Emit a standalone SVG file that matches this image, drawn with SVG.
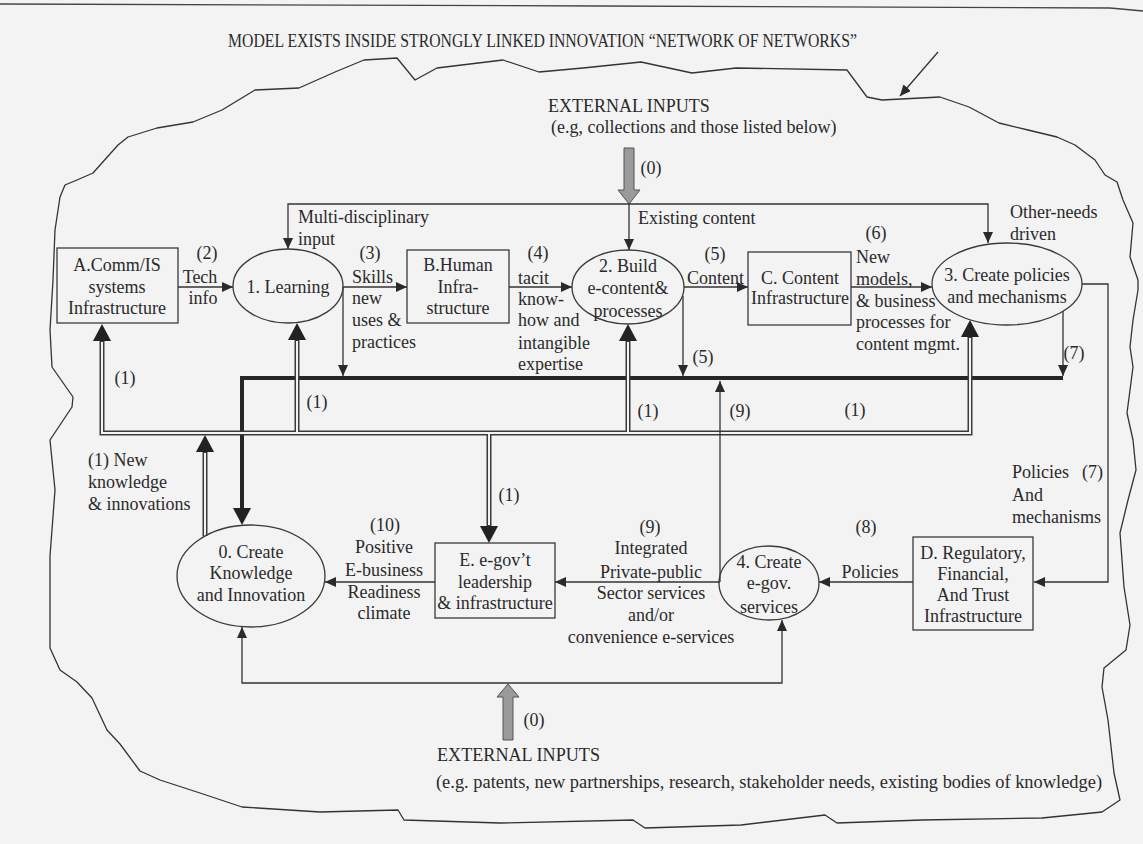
<svg xmlns="http://www.w3.org/2000/svg" width="1143" height="844" viewBox="0 0 1143 844">
<defs>
<style>
text{font-family:"Liberation Serif","Times New Roman",serif;font-size:18px;fill:#2a2a2a}
.c{text-anchor:middle}
.box{fill:none;stroke:#3a3a3a;stroke-width:1.3}
.thin{fill:none;stroke:#333;stroke-width:1.3}
.dbl{fill:none;stroke:#3a3a3a;stroke-width:5}
.dbli{fill:none;stroke:#f3f3f3;stroke-width:2}
.thick{fill:none;stroke:#262626;stroke-width:4}
.grey{fill:#9a9a9a;stroke:#555;stroke-width:1}
</style>
<marker id="ah" viewBox="0 0 11 10" refX="11" refY="5" markerWidth="11" markerHeight="10" markerUnits="userSpaceOnUse" orient="auto-start-reverse"><path d="M0,0 L11,5 L0,10 z" fill="#2a2a2a"/></marker>
<marker id="ahb" viewBox="0 0 17 18" refX="10" refY="9" markerWidth="17" markerHeight="18" markerUnits="userSpaceOnUse" orient="auto-start-reverse"><path d="M0,0 L17,9 L0,18 z" fill="#222"/></marker>
</defs>
<rect width="1143" height="844" fill="#f3f3f3"/>
<path d="M0,4 L600,6 L1110,8 L1143,11" fill="none" stroke="#444" stroke-width="1.3"/>
<text x="228" y="47" textLength="629" lengthAdjust="spacingAndGlyphs" font-size="19">MODEL EXISTS INSIDE STRONGLY LINKED INNOVATION “NETWORK OF NETWORKS”</text>
<path d="M938,52 L900,96" class="thin" marker-end="url(#ah)"/>
<path id="cloud" d="M128,137 L157,128 L193,122 L222,110 L255,90 L299,88 L335,72 L364,60 L397,58 L415,80 L437,68 L503,60 L539,72 L583,68 L641,62 L692,73 L736,68 L847,70 L867,97 L882,100 L940,97 L969,107 L999,123 L1028,130 L1057,137 L1075,145 L1095,160 L1105,175 L1117,182 L1123,200 L1133,223 L1130,257 L1138,280 L1138,290 L1133,320 L1130,347 L1133,367 L1127,413 L1133,440 L1136,470 L1128,500 L1120,533 L1124,587 L1130,625 L1126,650 L1104,668 L1102,687 L1108,720 L1114,773 L1120,800 L1102,812 L1042,818 L922,820 L837,823 L825,815 L741,825 L645,828 L633,820 L500,823 L404,820 L398,810 L320,812 L242,807 L200,793 L160,780 L140,771 L120,744 L107,730 L92,698 L77,682 L60,670 L50,648 L50,556 L55,490 L50,440 L72,407 L73,397 L52,367 L50,330 L53,280 L55,230 L60,197 L65,185 L77,180 L93,173 L118,145 Z" fill="none" stroke="#333" stroke-width="1.3" stroke-linejoin="round"/>
<g id="external-top">
<text x="548" y="112">EXTERNAL INPUTS</text>
<text x="551" y="133">(e.g, collections and those listed below)</text>
<polygon class="grey" points="624,148 634,148 634,190 640,190 629,204 618,190 624,190"/>
<text x="651" y="174" class="c">(0)</text>
</g>
<g id="external-bottom">
<polygon class="grey" points="503,740 513,740 513,697 519,697 508,684 497,697 503,697"/>
<text x="534" y="726" class="c">(0)</text>
<text x="437" y="761" textLength="163" lengthAdjust="spacingAndGlyphs" font-size="19">EXTERNAL INPUTS</text>
<text x="436" y="788" textLength="666" lengthAdjust="spacingAndGlyphs" font-size="19">(e.g. patents, new partnerships, research, stakeholder needs, existing bodies of knowledge)</text>
</g>
<g id="connectors">
<path class="thick" d="M1063,378 H242 V518" marker-end="url(#ahb)"/>
<path class="dbl" d="M102,331 V433 H970 V327" marker-start="url(#ahb)" marker-end="url(#ahb)"/>
<path class="dbl" d="M205,536 V442" marker-end="url(#ahb)"/>
<path class="dbl" d="M297,433 V330" marker-end="url(#ahb)"/>
<path class="dbl" d="M489,433 V536" marker-end="url(#ahb)"/>
<path class="dbl" d="M628,433 V331" marker-end="url(#ahb)"/>
<path class="dbli" d="M102,342 V433 H970 V338"/>
<path class="dbli" d="M205,536 V453"/>
<path class="dbli" d="M297,433 V341"/>
<path class="dbli" d="M489,433 V525"/>
<path class="dbli" d="M628,433 V342"/>
<path class="thin" d="M288,249 V204 H988 V243" marker-start="url(#ah)" marker-end="url(#ah)"/>
<path class="thin" d="M629,204 V250" marker-end="url(#ah)"/>
<path class="thin" d="M178,287 H233" marker-end="url(#ah)"/>
<path class="thin" d="M343,287 H407" marker-end="url(#ah)"/>
<path class="thin" d="M343,287 V376" marker-end="url(#ah)"/>
<path class="thin" d="M509,287 H572" marker-end="url(#ah)"/>
<path class="thin" d="M684,287 H748" marker-end="url(#ah)"/>
<path class="thin" d="M683,296 V376" marker-end="url(#ah)"/>
<path class="thin" d="M851,287 H932" marker-end="url(#ah)"/>
<path class="thin" d="M1082,284 H1108 V582 H1034" marker-end="url(#ah)"/>
<path class="thin" d="M1063,311 V376" marker-end="url(#ah)"/>
<path class="thin" d="M720,582 V381" marker-end="url(#ah)"/>
<path class="thin" d="M720,582 H555" marker-end="url(#ah)"/>
<path class="thin" d="M913,582 H819" marker-end="url(#ah)"/>
<path class="thin" d="M435,582 H325" marker-end="url(#ah)"/>
<path class="thin" d="M242,627 V683 H782 V620" marker-start="url(#ah)" marker-end="url(#ah)"/>
</g>
<g id="node-A">
<rect class="box" x="57" y="248" width="121" height="75"/>
<text x="117" y="271" class="c">A.Comm/IS</text>
<text x="117" y="293" class="c">systems</text>
<text x="117" y="314" class="c">Infrastructure</text>
</g>
<g id="node-1">
<ellipse class="box" cx="288" cy="286" rx="55" ry="37"/>
<text x="288" y="293" class="c">1. Learning</text>
</g>
<g id="node-B">
<rect class="box" x="407" y="250" width="102" height="73"/>
<text x="458" y="271" class="c">B.Human</text>
<text x="458" y="293" class="c">Infra-</text>
<text x="458" y="314" class="c">structure</text>
</g>
<g id="node-2">
<ellipse class="box" cx="628" cy="287" rx="56" ry="37"/>
<text x="628" y="272" class="c">2. Build</text>
<text x="628" y="294" class="c">e-content&amp;</text>
<text x="628" y="317" class="c">processes</text>
</g>
<g id="node-C">
<rect class="box" x="748" y="252" width="103" height="73"/>
<text x="800" y="284" class="c">C. Content</text>
<text x="800" y="304" class="c">Infrastructure</text>
</g>
<g id="node-3">
<ellipse class="box" cx="1007" cy="284" rx="75" ry="41"/>
<text x="1007" y="281" class="c">3. Create policies</text>
<text x="1007" y="303" class="c">and mechanisms</text>
</g>
<g id="node-0">
<ellipse class="box" cx="251" cy="576" rx="74" ry="51"/>
<text x="251" y="558" class="c">0. Create</text>
<text x="251" y="579" class="c">Knowledge</text>
<text x="251" y="601" class="c">and Innovation</text>
</g>
<g id="node-E">
<rect class="box" x="435" y="543" width="120" height="75"/>
<text x="495" y="566" class="c">E. e-gov’t</text>
<text x="495" y="588" class="c">leadership</text>
<text x="495" y="609" class="c">&amp; infrastructure</text>
</g>
<g id="node-4">
<ellipse class="box" cx="769" cy="583" rx="50" ry="37"/>
<text x="769" y="568" class="c">4. Create</text>
<text x="769" y="589" class="c">e-gov.</text>
<text x="769" y="613" class="c">services</text>
</g>
<g id="node-D">
<rect class="box" x="913" y="537" width="120" height="93"/>
<text x="973" y="559" class="c">D. Regulatory,</text>
<text x="973" y="580" class="c">Financial,</text>
<text x="973" y="601" class="c">And Trust</text>
<text x="973" y="622" class="c">Infrastructure</text>
</g>
<g id="labels">
<text x="638" y="224">Existing content</text>
<text x="298" y="223">Multi-disciplinary</text>
<text x="298" y="245">input</text>
<text x="1010" y="218">Other-needs</text>
<text x="1010" y="240">driven</text>
<text x="207" y="259" class="c">(2)</text>
<text x="200" y="283" class="c">Tech</text>
<text x="203" y="304" class="c">info</text>
<text x="370" y="259" class="c">(3)</text>
<text x="352" y="283">Skills</text>
<text x="352" y="304">new</text>
<text x="352" y="326">uses &amp;</text>
<text x="352" y="348">practices</text>
<text x="538" y="259" class="c">(4)</text>
<text x="518" y="284">tacit</text>
<text x="518" y="305">know-</text>
<text x="518" y="326">how and</text>
<text x="518" y="349">intangible</text>
<text x="518" y="370">expertise</text>
<text x="715" y="260" class="c">(5)</text>
<text x="687" y="284">Content</text>
<text x="876" y="239" class="c">(6)</text>
<text x="856" y="263">New</text>
<text x="856" y="285">models,</text>
<text x="856" y="307">&amp; business</text>
<text x="856" y="328">processes for</text>
<text x="856" y="350">content mgmt.</text>
<text x="703" y="363" class="c">(5)</text>
<text x="1074" y="359" class="c">(7)</text>
<text x="125" y="384" class="c">(1)</text>
<text x="317" y="408" class="c">(1)</text>
<text x="648" y="417" class="c">(1)</text>
<text x="740" y="417" class="c">(9)</text>
<text x="855" y="416" class="c">(1)</text>
<text x="509" y="501" class="c">(1)</text>
<text x="88" y="466">(1) New</text>
<text x="88" y="488">knowledge</text>
<text x="88" y="510">&amp; innovations</text>
<text x="385" y="531" class="c">(10)</text>
<text x="384" y="553" class="c">Positive</text>
<text x="384" y="576" class="c">E-business</text>
<text x="384" y="598" class="c">Readiness</text>
<text x="384" y="619" class="c">climate</text>
<text x="650" y="533" class="c">(9)</text>
<text x="651" y="554" class="c">Integrated</text>
<text x="651" y="578" class="c">Private-public</text>
<text x="651" y="599" class="c">Sector services</text>
<text x="651" y="621" class="c">and/or</text>
<text x="651" y="643" class="c">convenience e-services</text>
<text x="866" y="533" class="c">(8)</text>
<text x="870" y="578" class="c">Policies</text>
<text x="1012" y="478">Policies</text>
<text x="1103" y="478" text-anchor="end">(7)</text>
<text x="1012" y="501">And</text>
<text x="1012" y="523">mechanisms</text>
</g>
</svg>
